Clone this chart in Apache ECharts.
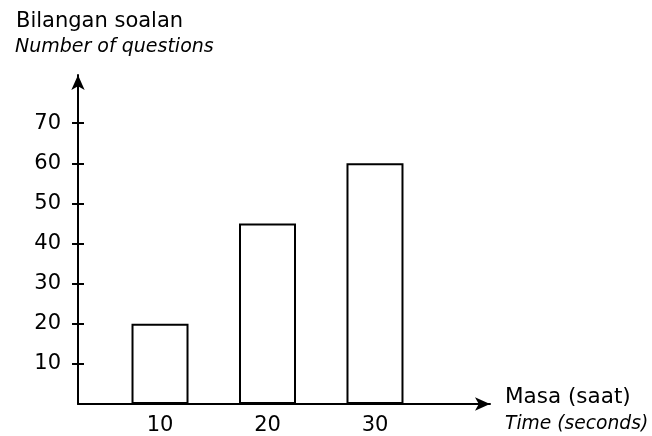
<!DOCTYPE html>
<html>
<head>
<meta charset="utf-8">
<script src="https://cdn.jsdelivr.net/npm/echarts@6/dist/echarts.min.js"></script>
<style>html,body{margin:0;padding:0;background:#fff}#c{width:652px;height:436px}</style>
</head>
<body>
<div id="c"></div>
<script>
const times = [10, 20, 30];
const counts = [20, 45, 60];
const yTicks = [10, 20, 30, 40, 50, 60, 70];
const yTitle = 'Bilangan soalan';
const yTitleEn = 'Number of questions';
const xTitle = 'Masa (saat)';
const xTitleEn = 'Time (seconds)';

const FONT = 'DejaVu Sans';
const INK = '#000';
const chart = echarts.init(document.getElementById('c'), null, {renderer: 'canvas'});
chart.setOption({
  backgroundColor: '#fff',
  animation: false,
  grid: {left: 78, right: 162, top: 75, bottom: 27, containLabel: false},
  xAxis: {
    type: 'value', min: 2.37, max: 40.7,
    splitLine: {show: false},
    axisLine: {show: true, symbol: ['none', 'arrow'], symbolSize: [10, 15], lineStyle: {color: INK, width: 2}},
    axisTick: {show: false},
    axisLabel: {customValues: times, color: INK, fontFamily: FONT, fontSize: 21, margin: 11}
  },
  yAxis: [{
    type: 'value', min: 0, max: 82,
    splitLine: {show: false},
    axisLine: {show: true, symbol: ['none', 'arrow'], symbolSize: [10, 15], lineStyle: {color: INK, width: 2}},
    axisTick: {show: true, customValues: yTicks, length: 6, lineStyle: {color: INK, width: 2}},
    axisLabel: {customValues: yTicks, color: INK, fontFamily: FONT, fontSize: 21, margin: 17}
  }, {
    type: 'value', min: 0, max: 82, position: 'left',
    splitLine: {show: false},
    axisLine: {show: false},
    axisTick: {show: true, inside: true, customValues: yTicks, length: 6, lineStyle: {color: INK, width: 2}},
    axisLabel: {show: false}
  }],
  series: [{
    type: 'bar',
    data: times.map((t, i) => [t, counts[i]]),
    barWidth: 57,
    itemStyle: {color: '#fff', borderColor: INK, borderWidth: 2},
    silent: true
  }],
  graphic: [
    {type: 'text', left: 16, top: 11, style: {text: yTitle, font: '21px "DejaVu Sans"', fill: INK}},
    {type: 'text', left: 15, top: 38, style: {text: yTitleEn, font: 'italic 19px "DejaVu Sans"', fill: INK}},
    {type: 'text', left: 505, top: 386, style: {text: xTitle, font: '21.5px "DejaVu Sans"', fill: INK}},
    {type: 'text', left: 505, top: 415, style: {text: xTitleEn, font: 'italic 18.7px "DejaVu Sans"', fill: INK}}
  ]
});
</script>
</body>
</html>
